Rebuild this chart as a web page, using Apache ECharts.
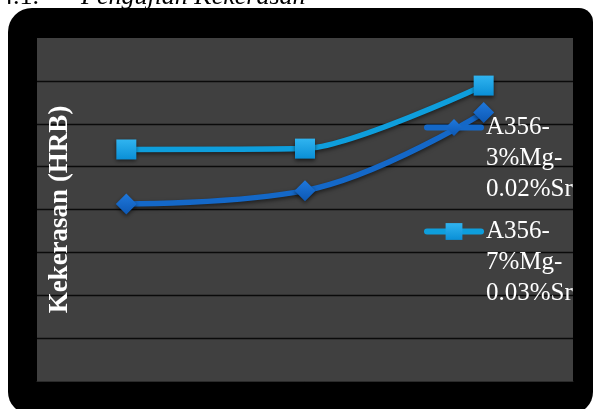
<!DOCTYPE html>
<html>
<head>
<meta charset="utf-8">
<script src="https://cdn.jsdelivr.net/npm/echarts@6/dist/echarts.min.js"></script>
<style>
html,body{margin:0;padding:0;background:#fff;}
#chart{width:596px;height:409px;}
</style>
</head>
<body>
<div id="chart"></div>
<script>
// Data
var categories = ['1', '2', '3'];
var seriesNames = ['A356-3%Mg-0.02%Sr', 'A356-7%Mg-0.03%Sr'];
var valuesMg3 = [41.3, 44.4, 62.6];
var valuesMg7 = [54.0, 54.2, 68.9];
var yAxisTitle = 'Kekerasan (HRB)';
var headingNumber = '4.1.';
var headingText = 'Pengujian Kekerasan';

var chart = echarts.init(document.getElementById('chart'));

function grad(top, bottom) {
  return {type: 'linear', x: 0, y: 0, x2: 0, y2: 1,
    colorStops: [{offset: 0, color: top}, {offset: 1, color: bottom}]};
}

var option = {
  backgroundColor: '#ffffff',
  animation: false,
  graphic: [
    {type: 'rect', z: -10, shape: {x: 8, y: 8, width: 585, height: 406, r: [24, 14, 22, 22]},
     style: {fill: '#000000'}},
    {type: 'text', x: 0, y: 10, z: 5,
     style: {text: headingNumber, font: '26px "Liberation Serif"', fill: '#000', verticalAlign: 'bottom'}},
    {type: 'text', x: 81, y: 10, z: 5,
     style: {text: headingText, font: 'italic 26px "Liberation Serif"', fill: '#000', verticalAlign: 'bottom'}}
  ],
  grid: {left: 37, right: 23, top: 38, bottom: 28, show: true, backgroundColor: '#404040', borderWidth: 0},
  legend: {
    orient: 'vertical',
    left: 424,
    top: 50,
    padding: 0,
    itemWidth: 54,
    itemHeight: 21,
    itemGap: -51,
    data: seriesNames,
    lineStyle: {width: 6, cap: 'round'},
    formatter: function (n) { return '\n\n' + n.replace(/-/g, '-\n'); },
    textStyle: {color: '#ffffff', fontFamily: 'Liberation Serif', fontSize: 25, lineHeight: 31}
  },
  xAxis: {
    type: 'category',
    data: categories,
    axisLine: {show: true, lineStyle: {color: '#2a2a2a', width: 1}},
    axisTick: {show: false},
    axisLabel: {show: false},
    splitLine: {show: false}
  },
  yAxis: {
    type: 'value',
    min: 0, max: 80, interval: 10,
    name: yAxisTitle,
    nameLocation: 'middle',
    nameRotate: 90,
    nameGap: -37,
    nameTextStyle: {color: '#ffffff', fontFamily: 'Liberation Serif', fontWeight: 'bold', fontSize: 27},
    axisLine: {show: false},
    axisTick: {show: false},
    axisLabel: {show: false},
    splitLine: {show: true, showMinLine: false, showMaxLine: false, lineStyle: {color: '#0a0a0a', width: 1.4}}
  },
  series: [
    {
      name: seriesNames[0],
      type: 'line',
      data: valuesMg3,
      smooth: 0.4,
      symbol: 'diamond',
      symbolSize: 21,
      lineStyle: {color: '#1468c8', width: 5.5, cap: 'round',
        shadowColor: 'rgba(0,0,0,0.55)', shadowBlur: 4, shadowOffsetY: 2},
      itemStyle: {color: grad('#1f78dc', '#0d58b4'), shadowColor: 'rgba(0,0,0,0.55)', shadowBlur: 4, shadowOffsetY: 2}
    },
    {
      name: seriesNames[1],
      type: 'line',
      data: valuesMg7,
      smooth: 0.24,
      symbol: 'rect',
      symbolSize: 20,
      lineStyle: {color: '#0e9edc', width: 5.5, cap: 'round',
        shadowColor: 'rgba(0,0,0,0.55)', shadowBlur: 4, shadowOffsetY: 2},
      itemStyle: {color: grad('#30b4f0', '#0a8fd6'), shadowColor: 'rgba(0,0,0,0.55)', shadowBlur: 4, shadowOffsetY: 2}
    }
  ]
};
chart.setOption(option);
</script>
</body>
</html>
